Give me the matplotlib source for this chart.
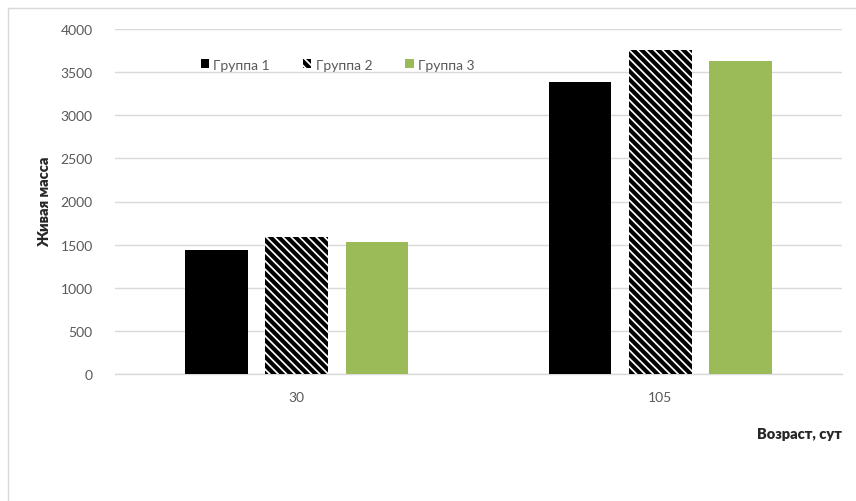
import matplotlib
matplotlib.use("Agg")
import matplotlib.pyplot as plt
import numpy as np
from matplotlib.lines import Line2D

# Live weight by age, three groups
ages    = ["30", "105"]
group1  = [1440, 3380]
group2  = [1590, 3760]
group3  = [1530, 3630]
labels  = ["Группа 1", "Группа 2", "Группа 3"]
yticks  = [0, 500, 1000, 1500, 2000, 2500, 3000, 3500, 4000]

plt.rcParams["font.family"] = ["Lato", "DejaVu Sans"]
plt.rcParams["hatch.linewidth"] = 3.0

W, H = 856, 502
fig = plt.figure(figsize=(W / 100, H / 100), dpi=100)
ax = fig.add_axes([115 / W, 1 - 375 / H, 727 / W, 345 / H])

x = np.arange(len(ages))
bw, step = 0.172, 0.221
green = "#9bbb59"

ax.bar(x - step, group1, bw, color="black", label=labels[0], zorder=3)
ax.bar(x, group2, bw, color="white", edgecolor="black", hatch="\\\\\\\\",
       linewidth=0, label=labels[1], zorder=3)
ax.bar(x + step, group3, bw, color=green, label=labels[2], zorder=3)

ax.set_xlim(-0.5, 1.5)
ax.set_ylim(0, 4000)
ax.set_yticks(yticks)
ax.set_xticks(x)
ax.set_xticklabels(ages)
ax.yaxis.grid(True, color="#d9d9d9", linewidth=1.0, zorder=0)
for s in ["top", "right", "left"]:
    ax.spines[s].set_visible(False)
ax.spines["bottom"].set_color("#d9d9d9")
ax.spines["bottom"].set_linewidth(1.0)
ax.tick_params(axis="both", length=0, labelsize=10, colors="#595959")
ax.tick_params(axis="y", pad=16)
ax.tick_params(axis="x", pad=12)

fig.text(45 / W, 1 - 202 / H, "Живая масса", rotation=90, ha="center", va="center",
         fontsize=10.5, fontweight="heavy", color="#262626")
fig.text(842 / W, 1 - 435 / H, "Возраст, сут", ha="right", va="center",
         fontsize=10.5, fontweight="heavy", color="#262626")

leg = ax.legend(loc="upper left", bbox_to_anchor=(80 / 727, 1 - 24 / 345), ncol=3,
                frameon=False, fontsize=10, handlelength=0.6, handleheight=0.6,
                handletextpad=0.3, columnspacing=2.4, borderaxespad=0)
for t in leg.get_texts():
    t.set_color("#595959")

# light chart-area border on top and left
fig.add_artist(Line2D([8 / W, 1], [1 - 9 / H, 1 - 9 / H], color="#d9d9d9", lw=1.0))
fig.add_artist(Line2D([8 / W, 8 / W], [0, 1 - 9 / H], color="#d9d9d9", lw=1.0))

fig.savefig("out.png", dpi=100)
